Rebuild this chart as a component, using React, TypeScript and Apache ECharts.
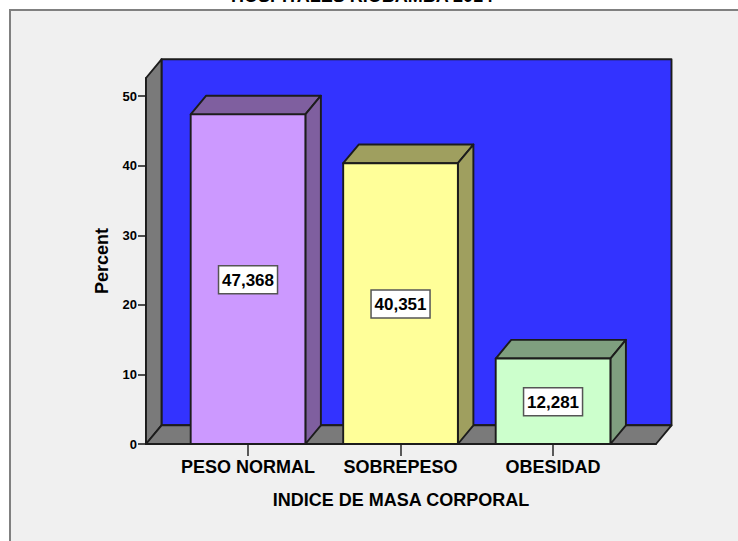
import React, { useEffect, useRef } from "react";
import * as echarts from "echarts";

const chartTitle = "HOSPITALES RIOBAMBA 2014";
const xAxisTitle = "INDICE DE MASA CORPORAL";
const yAxisTitle = "Percent";
const categories = ["PESO NORMAL", "SOBREPESO", "OBESIDAD"];
const percentValues = [47.368, 40.351, 12.281];
const valueLabels = ["47,368", "40,351", "12,281"];
const yTicks = [0, 10, 20, 30, 40, 50];
const xTicks = [0, 1, 2];

const frontColors = ["#CC99FF", "#FFFF99", "#CCFFCC"];
const shadeColors = ["#7F5F9F", "#9F9F5F", "#7F9F7F"];

const FONT = '"Liberation Sans", Arial, sans-serif';
const DEPTH_X = 15.5;
const DEPTH_Y = -18.7;
const BAR_WIDTH = 0.752;
const X_MIN = -0.669;
const X_MAX = 2.675;
const Y_MAX = 52.6;
const EDGE = "#1c1c1c";
const EDGE_W = 1.9;

function renderWalls(_params: any, api: any) {
  const [x0, y0] = api.coord([X_MIN, 0]);
  const [x1, y1] = api.coord([X_MAX, Y_MAX]);
  const edge = { stroke: EDGE, lineWidth: EDGE_W, lineJoin: "round" };
  return {
    type: "group",
    children: [
      {
        type: "rect",
        shape: { x: x0 + DEPTH_X, y: y1 + DEPTH_Y, width: x1 - x0, height: y0 - y1 },
        style: { fill: "#3333FF", ...edge },
      },
      {
        type: "polygon",
        shape: {
          points: [
            [x0, y1],
            [x0 + DEPTH_X, y1 + DEPTH_Y],
            [x0 + DEPTH_X, y0 + DEPTH_Y],
            [x0, y0],
          ],
        },
        style: { fill: "#7A7A7A", ...edge },
      },
      {
        type: "polygon",
        shape: {
          points: [
            [x0, y0],
            [x0 + DEPTH_X, y0 + DEPTH_Y],
            [x1 + DEPTH_X, y0 + DEPTH_Y],
            [x1, y0],
          ],
        },
        style: { fill: "#7A7A7A", ...edge },
      },
    ],
  };
}

function renderBar(params: any, api: any) {
  const i = api.value(0);
  const v = api.value(1);
  const [x0, y0] = api.coord([i - BAR_WIDTH / 2, 0]);
  const [x1, y1] = api.coord([i + BAR_WIDTH / 2, v]);
  const idx = params.dataIndex;
  const edge = { stroke: EDGE, lineWidth: EDGE_W, lineJoin: "round" };
  return {
    type: "group",
    children: [
      {
        type: "polygon",
        shape: {
          points: [
            [x0, y1],
            [x0 + DEPTH_X, y1 + DEPTH_Y],
            [x1 + DEPTH_X, y1 + DEPTH_Y],
            [x1, y1],
          ],
        },
        style: { fill: shadeColors[idx], ...edge },
      },
      {
        type: "polygon",
        shape: {
          points: [
            [x1, y1],
            [x1 + DEPTH_X, y1 + DEPTH_Y],
            [x1 + DEPTH_X, y0 + DEPTH_Y],
            [x1, y0],
          ],
        },
        style: { fill: shadeColors[idx], ...edge },
      },
      {
        type: "rect",
        shape: { x: x0, y: y1, width: x1 - x0, height: y0 - y1 },
        style: { fill: frontColors[idx], ...edge },
      },
      {
        type: "rect",
        shape: { x: (x0 + x1) / 2 - 29.5, y: (y0 + y1) / 2 - 13.5, width: 59, height: 28 },
        style: { fill: "#FFFFFF", stroke: "#555555", lineWidth: 1.5 },
      },
      {
        type: "text",
        style: {
          text: valueLabels[idx],
          x: (x0 + x1) / 2,
          y: (y0 + y1) / 2 + 1,
          align: "center",
          verticalAlign: "middle",
          font: `bold 17px ${FONT}`,
          fill: "#000000",
        },
      },
    ],
  };
}

export default function App() {
  const ref = useRef<HTMLDivElement>(null);

  useEffect(() => {
    document.body.style.margin = "0";
    const chart = echarts.init(ref.current!, null, { renderer: "svg" });
    chart.setOption({
      animation: false,
      backgroundColor: "#FFFFFF",
      title: {
        text: chartTitle,
        left: 362,
        top: -13,
        textAlign: "center",
        padding: 0,
        textStyle: { fontFamily: FONT, fontWeight: "bold", fontSize: 18, color: "#000000" },
      },
      grid: { left: 146, top: 78, width: 510, height: 366 },
      graphic: [
        {
          type: "rect",
          z: -10,
          silent: true,
          shape: { x: 10, y: 10, width: 760, height: 560 },
          style: { fill: "#F0F0F0", stroke: "#808080", lineWidth: 2 },
        },
      ],
      xAxis: {
        type: "value",
        min: X_MIN,
        max: X_MAX,
        name: xAxisTitle,
        nameLocation: "middle",
        nameGap: 47,
        nameTextStyle: { fontFamily: FONT, fontWeight: "bold", fontSize: 18, color: "#000000" },
        splitLine: { show: false },
        axisLine: { show: true, onZero: false, lineStyle: { color: EDGE, width: EDGE_W } },
        axisTick: { show: true, length: 12, customValues: xTicks, lineStyle: { color: "#333333", width: 1.6 } },
        axisLabel: {
          customValues: xTicks,
          margin: 14,
          fontFamily: FONT,
          fontWeight: "bold",
          fontSize: 18,
          color: "#000000",
          formatter: (v: number) => categories[v],
        },
      },
      yAxis: {
        type: "value",
        min: 0,
        max: Y_MAX,
        name: yAxisTitle,
        nameLocation: "middle",
        nameRotate: 90,
        nameGap: 35,
        nameTextStyle: { fontFamily: FONT, fontWeight: "bold", fontSize: 18, color: "#000000" },
        splitLine: { show: false },
        axisLine: { show: true, onZero: false, lineStyle: { color: EDGE, width: EDGE_W } },
        axisTick: { show: true, length: 8, customValues: yTicks, lineStyle: { color: "#222222", width: 1.6 } },
        axisLabel: {
          customValues: yTicks,
          margin: 9,
          padding: [3, 0, 0, 0],
          fontFamily: FONT,
          fontWeight: "bold",
          fontSize: 13,
          color: "#000000",
        },
      },
      series: [
        {
          type: "custom",
          name: "walls",
          z: 1,
          silent: true,
          clip: false,
          renderItem: renderWalls,
          data: [[0, 0]],
        },
        {
          type: "custom",
          name: "Percent",
          z: 3,
          silent: true,
          clip: false,
          renderItem: renderBar,
          encode: { x: 0, y: 1 },
          data: percentValues.map((v, i) => [i, v]),
        },
      ],
    });
    return () => chart.dispose();
  }, []);

  return <div ref={ref} style={{ position: "absolute", left: 0, top: 0, width: 738, height: 541 }} />;
}
